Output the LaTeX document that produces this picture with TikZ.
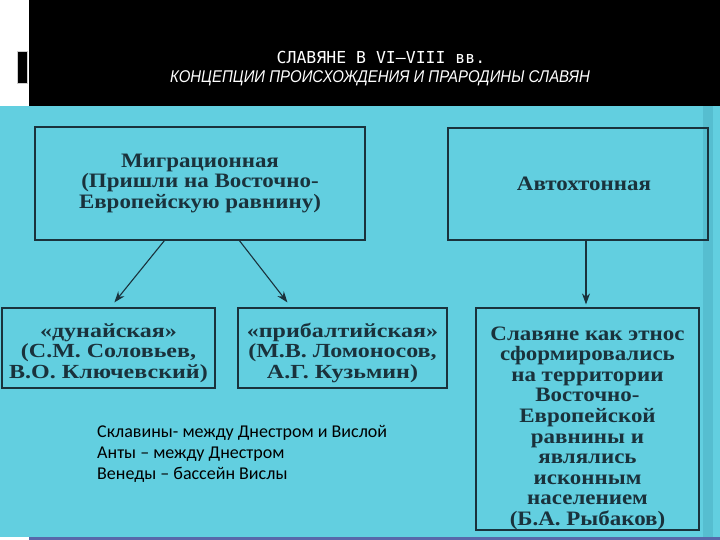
\documentclass[tikz,border=0pt]{standalone}
\usepackage{fontspec}
\setmainfont{Liberation Serif}
\newfontfamily\boxfont[FakeStretch=1.12]{Liberation Serif}
\newfontfamily\boxfontw[FakeStretch=1.2]{Liberation Serif}
\newfontfamily\titlefont{DejaVu Sans Mono}
\newfontfamily\subfont[FakeStretch=0.88]{Liberation Sans}
\newfontfamily\notefont{Carlito}
\usetikzlibrary{arrows.meta}
\definecolor{bgcyan}{RGB}{98,207,224}
\definecolor{bandcyan}{RGB}{86,190,208}
\definecolor{inkteal}{RGB}{26,50,60}
\definecolor{stripblue}{RGB}{88,104,170}
\tikzset{
  box/.style={draw=inkteal, line width=1.2pt, inner sep=0pt, align=center,
    text=inkteal, font=\boxfont\bfseries\fontsize{20.5}{20.6}\selectfont},
  boxw/.style={box, font=\boxfontw\bfseries\fontsize{20}{20.5}\selectfont},
  conn/.style={draw=inkteal, line width=1.1pt, -{Stealth[length=11pt,width=8pt]}},
}
\begin{document}
\begin{tikzpicture}[x=1pt,y=-1pt]
\useasboundingbox (0,0) rectangle (720,540);
% background panels
\fill[white] (0,0) rectangle (720,540);
\fill[black] (29,0) rectangle (720,106);
\fill[black, draw=gray!40, line width=0.6pt] (17,51) rectangle (27,83);
\fill[bgcyan] (0,106) rectangle (720,537);
\fill[bandcyan] (703,106) rectangle (713,537);
\fill[stripblue] (29,537) rectangle (720,540);
% header
\node[text=white, font=\titlefont\fontsize{16.5}{18}\selectfont] (title) at (381,57) {СЛАВЯНЕ В VI–VIII вв.};
\node[text=white, font=\subfont\itshape\fontsize{17}{18}\selectfont] (subtitle) at (380,78) {КОНЦЕПЦИИ ПРОИСХОЖДЕНИЯ И ПРАРОДИНЫ СЛАВЯН};
% boxes
\node[box, minimum width=330pt, minimum height=113pt] (mig) at (200,183.5)
  {Миграционная\\(Пришли на Восточно-\\Европейскую равнину)};
\node[box, minimum width=260pt, minimum height=112pt] (auto) at (578,184)
  {\hspace*{12pt}Автохтонная};
\node[boxw, minimum width=213pt, minimum height=80pt] (dun) at (108.5,348)
  {\rule{0pt}{24pt}«дунайская»\\(С.М. Соловьев,\\В.О. Ключевский)};
\node[boxw, minimum width=209pt, minimum height=80pt] (prib) at (342.5,348)
  {\rule{0pt}{24pt}«прибалтийская»\\(М.В. Ломоносов,\\А.Г. Кузьмин)};
\node[box, minimum width=223pt, minimum height=222pt] (ryb) at (587.5,419)
  {\rule{0pt}{32pt}Славяне как этнос\\сформировались\\на территории\\Восточно-\\Европейской\\равнины и\\являлись\\исконным\\населением\\(Б.А. Рыбаков)};
% connectors
\draw[conn] ([xshift=130pt]mig.south west) -- ([xshift=113pt,yshift=5pt]dun.north west);
\draw[conn] ([xshift=205pt]mig.south west) -- ([xshift=50pt,yshift=5pt]prib.north west);
\draw[conn] ([xshift=8pt]auto.south) -- ([xshift=-1.5pt,yshift=3pt]ryb.north);
% note
\node[anchor=north west, inner sep=0pt, align=left, text=black,
  font=\notefont\fontsize{18}{21}\selectfont] (note) at (97,425)
  {Склавины- между Днестром и Вислой\\Анты – между Днестром\\Венеды – бассейн Вислы};
\end{tikzpicture}
\end{document}
